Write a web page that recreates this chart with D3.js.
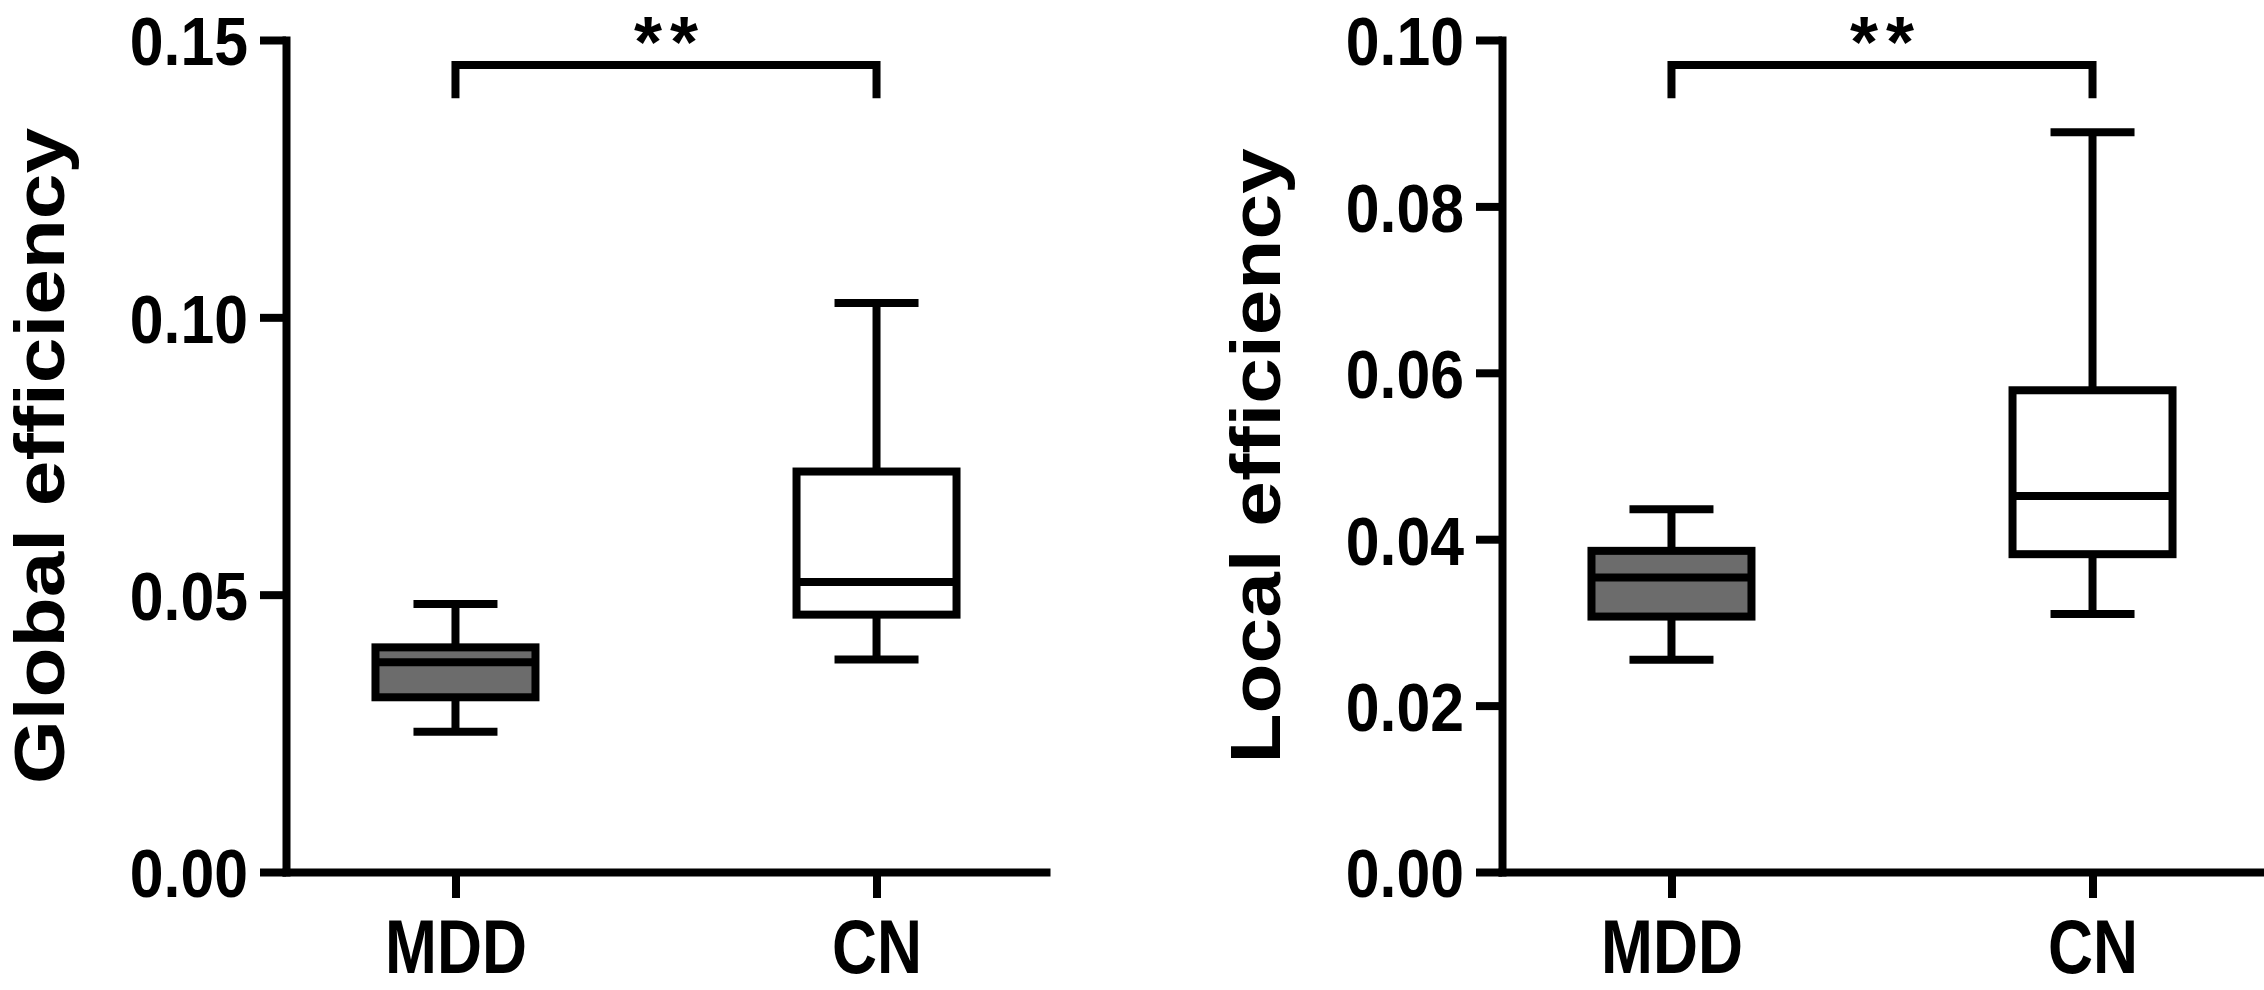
<!DOCTYPE html>
<html>
<head>
<meta charset="utf-8">
<script src="https://cdn.jsdelivr.net/npm/d3@7"></script>
<style>
  html, body { margin: 0; padding: 0; background: #fff; }
  svg { display: block; }
  text { font-family: 'Liberation Sans', Arial, Helvetica, sans-serif; font-weight: bold; fill: #000; }
</style>
</head>
<body>
<svg id="chart" width="2264" height="990"></svg>
<script>
// ---------- data ----------
const categories = ["MDD", "CN"];

// Global efficiency box statistics [MDD, CN]
const globalMin    = [0.0253, 0.0383];
const globalQ1     = [0.0315, 0.0464];
const globalMedian = [0.0378, 0.0523];
const globalQ3     = [0.0405, 0.0722];
const globalMax    = [0.0483, 0.1026];
const globalTicks  = [0.00, 0.05, 0.10, 0.15];
const globalBracket = [0.1455, 0.1395];   // bar level, leg end

// Local efficiency box statistics [MDD, CN]
const localMin    = [0.0255, 0.0310];
const localQ1     = [0.0307, 0.0382];
const localMedian = [0.0354, 0.0452];
const localQ3     = [0.0386, 0.0579];
const localMax    = [0.0436, 0.0889];
const localTicks  = [0.00, 0.02, 0.04, 0.06, 0.08, 0.10];
const localBracket = [0.0970, 0.0930];

const significance = "**";
const fills = ["#6c6c6c", "#ffffff"];

// ---------- layout ----------
const svg = d3.select("#chart");
const plotTop = 40, plotBottom = 872, plotW = 760;
const SW = 8;

const panels = [
  { title: "Global efficiency", x0: 286, max: 0.15, ticks: globalTicks,
    mins: globalMin, q1: globalQ1, med: globalMedian, q3: globalQ3, maxs: globalMax, bracket: globalBracket },
  { title: "Local efficiency", x0: 1502, max: 0.10, ticks: localTicks,
    mins: localMin, q1: localQ1, med: localMedian, q3: localQ3, maxs: localMax, bracket: localBracket }
];

panels.forEach(p => {
  const g = svg.append("g").attr("transform", `translate(${p.x0},0)`);
  const y = d3.scaleLinear().domain([0, p.max]).range([plotBottom, plotTop]);
  const x = d3.scalePoint().domain(categories).range([0, plotW]).padding(0.4025);

  const boxW = 160, capW = 84;

  // Y axis
  const ya = g.append("g").call(
    d3.axisLeft(y).tickValues(p.ticks).tickFormat(d3.format(".2f"))
      .tickSize(26).tickPadding(0).tickSizeOuter(0));
  ya.select(".domain").attr("stroke", "#000").attr("stroke-width", SW).attr("stroke-linecap", "square");
  ya.selectAll(".tick line").attr("stroke", "#000").attr("stroke-width", SW);
  ya.selectAll(".tick text")
    .style("font-size", "69px").attr("fill", "#000")
    .attr("x", 0).attr("dy", "0.36em")
    .attr("transform", "translate(-38,0) scale(0.88,1)");

  // X axis
  const xa = g.append("g").attr("transform", `translate(0,${plotBottom})`).call(
    d3.axisBottom(x).tickSize(26).tickPadding(0).tickSizeOuter(0));
  xa.select(".domain").attr("stroke", "#000").attr("stroke-width", SW).attr("stroke-linecap", "square");
  xa.selectAll(".tick line").attr("stroke", "#000").attr("stroke-width", SW);
  xa.selectAll(".tick text")
    .style("font-size", "76px").attr("fill", "#000")
    .attr("y", 0).attr("dy", null)
    .attr("transform", "translate(0,101) scale(0.82,1)");

  // Y title
  g.append("text")
    .attr("transform", `translate(${-222},${(plotTop + plotBottom) / 2}) rotate(-90) scale(1,0.86)`)
    .attr("text-anchor", "middle")
    .style("font-size", "82px")
    .text(p.title);

  // Boxes
  categories.forEach((c, i) => {
    const cx = x(c);
    const bg = g.append("g");
    bg.append("line").attr("x1", cx).attr("x2", cx).attr("y1", y(p.maxs[i])).attr("y2", y(p.q3[i]))
      .attr("stroke", "#000").attr("stroke-width", SW);
    bg.append("line").attr("x1", cx).attr("x2", cx).attr("y1", y(p.q1[i])).attr("y2", y(p.mins[i]))
      .attr("stroke", "#000").attr("stroke-width", SW);
    bg.append("line").attr("x1", cx - capW / 2).attr("x2", cx + capW / 2).attr("y1", y(p.maxs[i])).attr("y2", y(p.maxs[i]))
      .attr("stroke", "#000").attr("stroke-width", SW);
    bg.append("line").attr("x1", cx - capW / 2).attr("x2", cx + capW / 2).attr("y1", y(p.mins[i])).attr("y2", y(p.mins[i]))
      .attr("stroke", "#000").attr("stroke-width", SW);
    bg.append("rect").attr("x", cx - boxW / 2).attr("width", boxW)
      .attr("y", y(p.q3[i])).attr("height", y(p.q1[i]) - y(p.q3[i]))
      .attr("fill", fills[i]).attr("stroke", "#000").attr("stroke-width", SW);
    bg.append("line").attr("x1", cx - boxW / 2).attr("x2", cx + boxW / 2).attr("y1", y(p.med[i])).attr("y2", y(p.med[i]))
      .attr("stroke", "#000").attr("stroke-width", SW);
  });

  // Significance bracket
  const xa0 = x(categories[0]), xa1 = x(categories[1]);
  const yb = y(p.bracket[0]), yl = y(p.bracket[1]);
  g.append("path")
    .attr("d", `M${xa0},${yl}V${yb}H${xa1}V${yl}`)
    .attr("fill", "none").attr("stroke", "#000").attr("stroke-width", SW)
    .attr("stroke-linejoin", "miter");
  g.append("text")
    .attr("x", (xa0 + xa1) / 2 + 4)
    .attr("y", yb + 2)
    .attr("text-anchor", "middle")
    .style("font-size", "72px")
    .style("letter-spacing", "8px")
    .text(significance);
});
</script>
</body>
</html>
